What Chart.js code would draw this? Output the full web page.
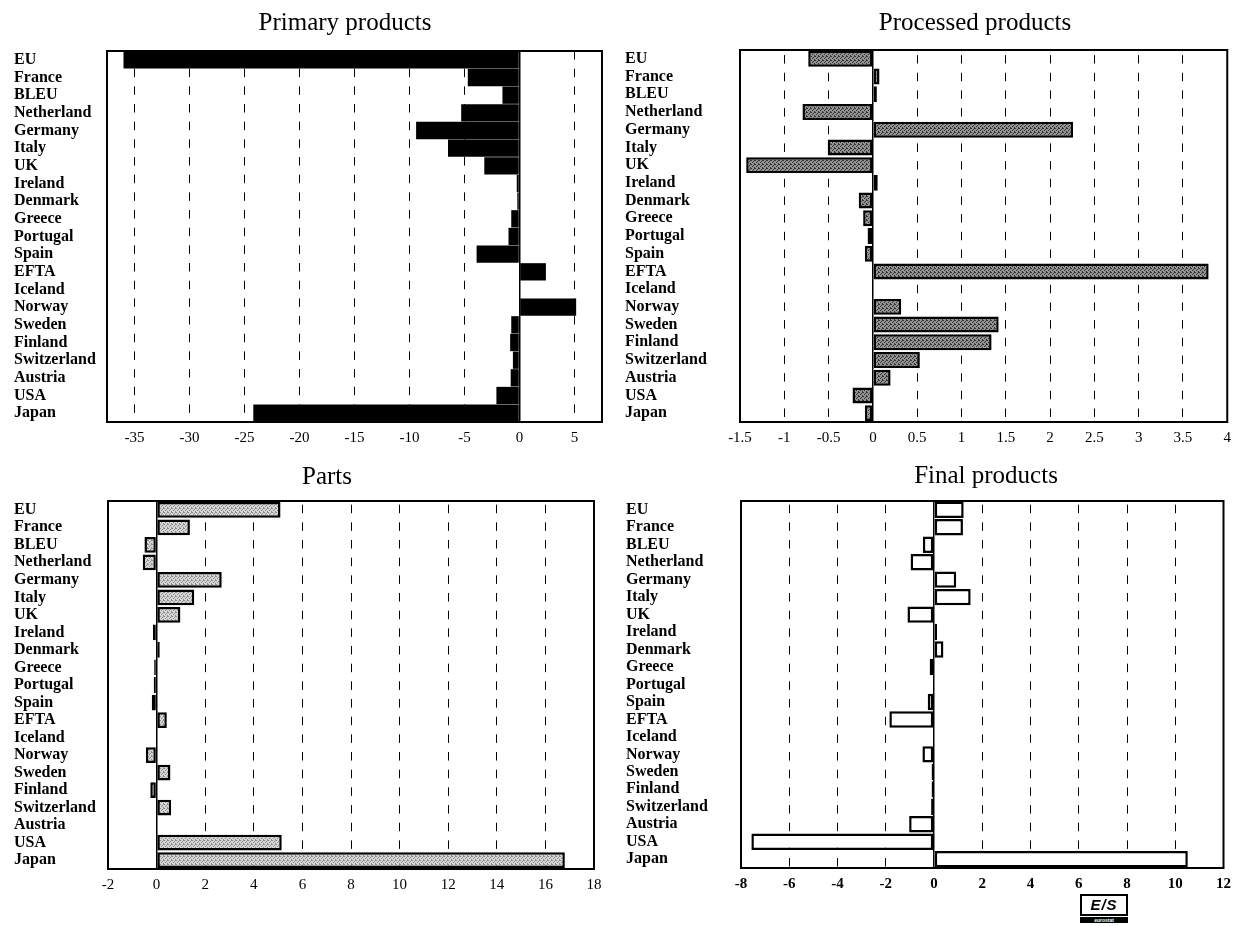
<!DOCTYPE html>
<html>
<head>
<meta charset="utf-8">
<script src="https://cdn.jsdelivr.net/npm/chart.js@4.4.1/dist/chart.umd.min.js"></script>
<style>
  html, body { margin: 0; padding: 0; background: #fff; }
  body { width: 1238px; height: 926px; position: relative; overflow: hidden; }
  .panel { position: absolute; }
  .panel canvas { display: block; }
  .logo { position: absolute; left: 1080px; top: 894px; width: 44px; height: 18px; border: 2px solid #000;
    font: italic bold 15px "Liberation Sans", sans-serif; line-height: 18px; text-align: center; letter-spacing: 1px; }
  .logo small { position: absolute; left: -2px; top: 21px; width: 48px; font: bold 5px "Liberation Sans", sans-serif;
    line-height: 6px; letter-spacing: 0; background: #000; color: #fff; }
</style>
</head>
<body>
<div class="panel" style="left:0;top:0;width:615px;height:463px"><canvas id="primary" width="615" height="463"></canvas></div>
<div class="panel" style="left:615px;top:0;width:623px;height:463px"><canvas id="processed" width="623" height="463"></canvas></div>
<div class="panel" style="left:0;top:440px;width:615px;height:486px"><canvas id="parts" width="615" height="486"></canvas></div>
<div class="panel" style="left:615px;top:440px;width:623px;height:486px"><canvas id="final" width="623" height="486"></canvas></div>
<div class="logo">E/S<small>eurostat</small></div>
<script>
const countries = ["EU", "France", "BLEU", "Netherland", "Germany", "Italy", "UK", "Ireland", "Denmark",
  "Greece", "Portugal", "Spain", "EFTA", "Iceland", "Norway", "Sweden", "Finland", "Switzerland",
  "Austria", "USA", "Japan"];

const primaryValues = [-36, -4.7, -1.55, -5.3, -9.4, -6.5, -3.2, -0.25, -0.2, -0.75, -1.0, -3.9,
  2.4, 0, 5.15, -0.75, -0.85, -0.6, -0.8, -2.1, -24.2];
const processedValues = [-0.73, 0.075, 0.045, -0.795, 2.26, -0.51, -1.43, 0.055, -0.16, -0.11, -0.06, -0.09,
  3.79, 0, 0.32, 1.42, 1.34, 0.53, 0.2, -0.23, -0.09];
const partsValues = [5.1, 1.37, -0.5, -0.57, 2.68, 1.55, 0.98, -0.15, 0.13, -0.1, -0.12, -0.2,
  0.42, 0, -0.44, 0.57, -0.26, 0.6, 0, 5.15, 16.8];
const finalValues = [1.23, 1.2, -0.46, -0.97, 0.92, 1.52, -1.1, 0.13, 0.39, -0.18, 0, -0.26,
  -1.85, 0, -0.48, -0.1, -0.1, -0.12, -1.03, -7.57, 10.52];

const primaryTicks = [-35, -30, -25, -20, -15, -10, -5, 0, 5];
const processedTicks = [-1.5, -1, -0.5, 0, 0.5, 1, 1.5, 2, 2.5, 3, 3.5, 4];
const partsTicks = [-2, 0, 2, 4, 6, 8, 10, 12, 14, 16, 18];
const finalTicks = [-8, -6, -4, -2, 0, 2, 4, 6, 8, 10, 12];

const SERIF = '"Liberation Serif", "Times New Roman", serif';

// small dotted fill like the scanned halftone
function stipple(base, dot) {
  const c = document.createElement("canvas");
  c.width = 4; c.height = 4;
  const g = c.getContext("2d");
  g.fillStyle = base;
  g.fillRect(0, 0, 4, 4);
  g.fillStyle = dot;
  [[0, 0], [2, 1], [1, 2], [3, 3], [3, 0]].forEach(([x, y]) => g.fillRect(x, y, 1, 1));
  return g.createPattern(c, "repeat");
}

const framePlugin = {
  id: "frame",
  afterDatasetsDraw(chart) {
    const { ctx, chartArea: a } = chart;
    ctx.save();
    ctx.strokeStyle = "#000";
    ctx.lineWidth = 2;
    ctx.strokeRect(a.left, a.top, a.right - a.left, a.bottom - a.top);
    ctx.restore();
  },
};

const titlePlugin = {
  id: "panelTitle",
  afterDraw(chart, args, opts) {
    const ctx = chart.ctx;
    ctx.save();
    ctx.font = "25px " + SERIF;
    ctx.fillStyle = "#000";
    ctx.textAlign = "center";
    ctx.textBaseline = "middle";
    ctx.fillText(opts.text, opts.x, opts.y);
    ctx.restore();
  },
};

function makePanel(id, p) {
  const el = document.getElementById(id);
  const W = el.width, H = el.height;
  return new Chart(el, {
    type: "bar",
    data: {
      labels: countries,
      datasets: [{
        data: p.values,
        backgroundColor: p.fill,
        borderColor: "#000",
        borderWidth: p.border,
        borderSkipped: false,
        barPercentage: 1,
        categoryPercentage: p.cat,
      }],
    },
    options: {
      indexAxis: "y",
      responsive: false,
      maintainAspectRatio: false,
      animation: false,
      devicePixelRatio: 1,
      layout: { padding: { left: p.labelLeft, right: W - p.plot.r, top: p.plot.t, bottom: 0 } },
      plugins: {
        legend: { display: false },
        tooltip: { enabled: false },
        panelTitle: { text: p.title, x: p.titleX, y: p.titleY },
      },
      scales: {
        x: {
          type: "linear",
          min: p.min,
          max: p.max,
          afterBuildTicks: (s) => { s.ticks = p.ticks.map((v) => ({ value: v })); },
          afterFit: (s) => { s.height = H - p.plot.b; },
          ticks: {
            color: "#000",
            padding: 7,
            maxRotation: 0,
            autoSkip: false,
            font: { family: SERIF, size: 15, weight: p.tickBold ? "bold" : "normal" },
            callback: (v) => String(v),
          },
          grid: {
            color: "#000",
            drawTicks: false,
            lineWidth: (c) => (c.tick && c.tick.value === 0 ? 1.5 : 1),
          },
          border: {
            display: false,
            dash: (c) => (c.tick && c.tick.value !== 0 ? [8.5, 9.17] : []),
            dashOffset: p.dashOffset,
          },
        },
        y: {
          type: "category",
          afterFit: (s) => { s.width = p.plot.l - p.labelLeft; },
          grid: { display: false },
          border: { display: false },
          ticks: {
            autoSkip: false,
            crossAlign: "far",
            padding: 0,
            color: "#000",
            font: { family: SERIF, size: 16, weight: "bold" },
          },
        },
      },
    },
    plugins: [framePlugin, titlePlugin],
  });
}

// plot positions are relative to each panel's own canvas
makePanel("primary", {
  title: "Primary products", titleX: 345, titleY: 23,
  values: primaryValues, ticks: primaryTicks, min: -37.5, max: 7.5,
  fill: "#000", border: 0, cat: 0.98, dashOffset: 0,
  labelLeft: 14, plot: { l: 107, r: 602, t: 51, b: 422 },
});

makePanel("processed", {
  title: "Processed products", titleX: 360, titleY: 23,
  values: processedValues, ticks: processedTicks, min: -1.5, max: 4,
  fill: stipple("#939393", "#333333"), border: 2.5, cat: 0.9, dashOffset: 12.6,
  labelLeft: 10, plot: { l: 125, r: 615, t: 50, b: 422 },
});

makePanel("parts", {
  title: "Parts", titleX: 327, titleY: 37,
  values: partsValues, ticks: partsTicks, min: -2, max: 18,
  fill: stipple("#d6d6d6", "#8c8c8c"), border: 2.5, cat: 0.9, dashOffset: 14,
  labelLeft: 14, plot: { l: 108, r: 594, t: 61, b: 429 },
});

makePanel("final", {
  title: "Final products", titleX: 371, titleY: 36,
  values: finalValues, ticks: finalTicks, min: -8, max: 12,
  fill: "#fff", border: 2.5, cat: 0.94, dashOffset: 14, tickBold: true,
  labelLeft: 11, plot: { l: 126, r: 614, t: 61, b: 428 },
});
</script>
</body>
</html>
